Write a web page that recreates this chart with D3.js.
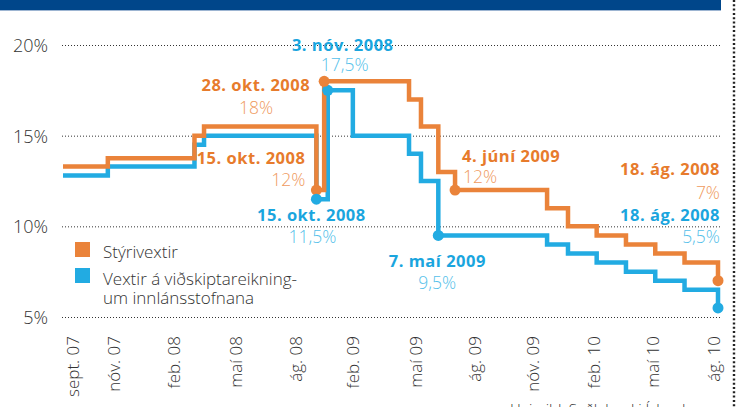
<!DOCTYPE html>
<html>
<head>
<meta charset="utf-8">
<script src="https://cdn.jsdelivr.net/npm/d3@7"></script>
<style>
body { margin: 0; background: #fff; }
svg { display: block; font-family: "Open Sans", sans-serif; }
</style>
</head>
<body>
<script>
var parseDate = d3.timeParse("%Y-%m-%d");

// Stýrivextir - step changes (date the new rate starts)
var policyDates = ["2007-08-18", "2007-11-01", "2008-03-25", "2008-04-10", "2008-10-15", "2008-10-28",
    "2009-03-19", "2009-04-08", "2009-05-07", "2009-06-04", "2009-11-05", "2009-12-10",
    "2010-01-27", "2010-03-17", "2010-05-05", "2010-06-23", "2010-08-18"];
var policyValues = [13.3, 13.75, 15, 15.5, 12, 18, 17, 15.5, 13, 12, 11, 10, 9.5, 9, 8.5, 8, 7];

// Vextir á viðskiptareikningum innlánsstofnana
var depositDates = ["2007-08-18", "2007-11-01", "2008-03-25", "2008-04-10", "2008-10-15", "2008-11-03",
    "2008-12-15", "2009-03-19", "2009-04-08", "2009-05-07", "2009-11-05", "2009-12-10",
    "2010-01-27", "2010-03-17", "2010-05-05", "2010-06-23", "2010-08-18"];
var depositValues = [12.8, 13.3, 14.5, 15, 11.5, 17.5, 15, 14, 12.5, 9.5, 9, 8.5, 8, 7.5, 7, 6.5, 5.5];

// x axis labels, placed where the original puts them
var tickDates = ["2007-09-02", "2007-11-11", "2008-02-18", "2008-06-01", "2008-09-09", "2008-12-15",
    "2009-03-29", "2009-07-07", "2009-10-12", "2010-01-21", "2010-04-30", "2010-08-10"];
var tickLabels = ["sept. 07", "nóv. 07", "feb. 08", "maí 08", "ág. 08", "feb. 09",
    "maí 09", "ág. 09", "nóv. 09", "feb. 10", "maí 10", "ág. 10"];

var yTicks = [5, 10, 15, 20];

var seriesNames = ["Stýrivextir", "Vextir á viðskiptareikning-\num innlánsstofnana"];

// highlighted points
var markSeries = [1, 0, 0, 1, 0, 0, 1, 1];
var markDates = ["2008-11-03", "2008-10-28", "2008-10-15", "2008-10-15", "2009-06-04", "2010-08-18", "2010-08-18", "2009-05-07"];
var markValues = [17.5, 18, 12, 11.5, 12, 7, 5.5, 9.5];
var markTitles = ["3. nóv. 2008", "28. okt. 2008", "15. okt. 2008", "15. okt. 2008", "4. júní 2009", "18. ág. 2008", "18. ág. 2008", "7. maí 2009"];
var markPcts = ["17,5%", "18%", "12%", "11,5%", "12%", "7%", "5,5%", "9,5%"];

var width = 736,
    height = 407,
    colors = ["#ea833a", "#22abe2"],
    lightColors = ["#ef9a5e", "#55bfea"],
    darkColors = ["#e77b2c", "#1aa5de"];

var svg = d3.select("body").append("svg")
    .attr("width", width)
    .attr("height", height);

// title band (text is cut off in the original)
svg.append("rect")
    .attr("x", 0).attr("y", 0)
    .attr("width", 721).attr("height", 10)
    .attr("fill", "#00468a");
svg.append("line")
    .attr("x1", 0).attr("x2", 721)
    .attr("y1", 10.5).attr("y2", 10.5)
    .attr("stroke", "#9db5d2");

// dotted right border
svg.append("line")
    .attr("x1", 734).attr("x2", 734)
    .attr("y1", 0).attr("y2", height)
    .attr("stroke", "#222")
    .attr("stroke-width", 2.4)
    .attr("stroke-dasharray", "2,2.3");

var x = d3.scaleTime()
    .domain([parseDate("2007-08-18"), parseDate("2010-08-18")])
    .range([63, 718]);

var y = d3.scaleLinear()
    .domain([5, 20])
    .range([317, 45]);

// y axis + gridlines
var yAxis = svg.append("g")
    .attr("transform", "translate(62,0)")
    .call(d3.axisLeft(y)
        .tickValues(yTicks)
        .tickSize(-660)
        .tickPadding(14)
        .tickFormat(function (d) { return d + "%"; }));

yAxis.select(".domain").remove();
yAxis.selectAll(".tick line")
    .attr("stroke", "#333")
    .attr("stroke-dasharray", "1,2");
yAxis.selectAll(".tick text")
    .attr("fill", "#333")
    .attr("dy", "0.36em")
    .style("font-size", "18px")
    .style("font-weight", 300)
    .style("font-family", "'Open Sans', sans-serif");

// x axis, rotated labels
var xAxis = svg.append("g")
    .attr("transform", "translate(0,336)")
    .call(d3.axisBottom(x)
        .tickValues(tickDates.map(parseDate))
        .tickSize(0)
        .tickFormat(function (d, i) { return tickLabels[i]; }));

xAxis.select(".domain").remove();
xAxis.selectAll(".tick text")
    .attr("transform", "rotate(-90)")
    .attr("x", 0)
    .attr("y", 0)
    .attr("dy", "0.36em")
    .attr("fill", "#333")
    .style("text-anchor", "end")
    .style("font-size", "17px")
    .style("font-weight", 300)
    .style("font-family", "'Open Sans', sans-serif");

// step lines
var line = d3.line()
    .curve(d3.curveStepAfter)
    .x(function (d) { return x(d.date); })
    .y(function (d) { return y(d.value); });

var series = [
    policyDates.map(function (d, i) { return { date: parseDate(d), value: policyValues[i] }; }),
    depositDates.map(function (d, i) { return { date: parseDate(d), value: depositValues[i] }; })
];

// blue first so orange sits on top
[1, 0].forEach(function (s) {
    svg.append("path")
        .datum(series[s])
        .attr("fill", "none")
        .attr("stroke", colors[s])
        .attr("stroke-width", 4.5)
        .attr("d", line);
});

// markers and labels
var labelPos = [
    { anchor: "middle", tx: 15, ty: -39, px: 17, py: -19 },
    { anchor: "end", tx: -14, ty: 10, px: -68, py: 33, pAnchor: "middle" },
    { anchor: "end", tx: -11, ty: -26, px: -11, py: -4 },
    { anchor: "middle", tx: -5, ty: 22, px: -4, py: 44 },
    { anchor: "start", tx: 7, ty: -28, px: 8, py: -7 },
    { anchor: "end", tx: 2, ty: -106, px: 2, py: -82 },
    { anchor: "end", tx: 2, ty: -87, px: 2, py: -65 },
    { anchor: "middle", tx: -1, ty: 32, px: -1, py: 54 }
];

var marks = markDates.map(function (d, i) {
    return {
        s: markSeries[i],
        cx: x(parseDate(d)),
        cy: y(markValues[i]),
        title: markTitles[i],
        pct: markPcts[i],
        pos: labelPos[i]
    };
});

svg.selectAll("circle.mark")
    .data(marks)
    .enter().append("circle")
    .attr("class", "mark")
    .attr("cx", function (d) { return d.cx; })
    .attr("cy", function (d) { return d.cy; })
    .attr("r", 5.5)
    .attr("fill", function (d) { return colors[d.s]; });

svg.selectAll("text.mtitle")
    .data(marks)
    .enter().append("text")
    .attr("class", "mtitle")
    .attr("x", function (d) { return d.cx + d.pos.tx; })
    .attr("y", function (d) { return d.cy + d.pos.ty; })
    .attr("text-anchor", function (d) { return d.pos.anchor; })
    .attr("fill", function (d) { return darkColors[d.s]; })
    .style("font-size", "16.5px")
    .style("font-weight", 700)
    .style("letter-spacing", "0.5px")
    .text(function (d) { return d.title; });

svg.selectAll("text.mpct")
    .data(marks)
    .enter().append("text")
    .attr("class", "mpct")
    .attr("x", function (d) { return d.cx + d.pos.px; })
    .attr("y", function (d) { return d.cy + d.pos.py; })
    .attr("text-anchor", function (d) { return d.pos.pAnchor || d.pos.anchor; })
    .attr("fill", function (d) { return lightColors[d.s]; })
    .style("font-size", "17.5px")
    .style("font-weight", 300)
    .text(function (d) { return d.pct; });

// legend
var legend = svg.append("g");

seriesNames.forEach(function (name, i) {
    legend.append("rect")
        .attr("x", 75)
        .attr("y", 242 + i * 26)
        .attr("width", 15)
        .attr("height", 15)
        .attr("fill", colors[i]);

    var t = legend.append("text")
        .attr("x", 103)
        .attr("y", 258 + i * 27)
        .attr("fill", "#333")
        .style("font-size", "17px")
        .style("font-weight", 300);

    name.split("\n").forEach(function (part, j) {
        t.append("tspan")
            .attr("x", 103)
            .attr("dy", j === 0 ? 0 : 19)
            .text(part);
    });
});

// source, cut at the bottom edge
svg.append("text")
    .attr("x", 510)
    .attr("y", 415)
    .attr("fill", "#333")
    .style("font-size", "15px")
    .style("font-weight", 300)
    .text("Heimild: Seðlabanki Íslands");
</script>
</body>
</html>
